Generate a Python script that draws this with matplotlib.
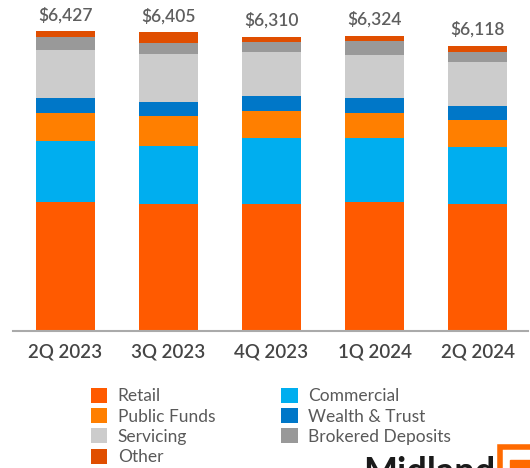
import matplotlib.pyplot as plt
from matplotlib.patches import Rectangle

plt.rcParams['font.family'] = ['Lato', 'DejaVu Sans']

quarters = ["2Q 2023", "3Q 2023", "4Q 2023", "1Q 2024", "2Q 2024"]
totals = [6427, 6405, 6310, 6324, 6118]

retail = [2773, 2729, 2723, 2766, 2727]
commercial = [1311, 1247, 1411, 1376, 1217]
public_funds = [589, 638, 580, 531, 580]
wealth_trust = [322, 301, 329, 322, 305]
servicing = [1024, 1026, 945, 920, 932]
brokered = [279, 236, 215, 301, 215]
other = [129, 228, 107, 108, 142]

series = [
    ("Retail", retail, "#FF5A00"),
    ("Commercial", commercial, "#00AEEF"),
    ("Public Funds", public_funds, "#FF7F00"),
    ("Wealth & Trust", wealth_trust, "#0077C8"),
    ("Servicing", servicing, "#CCCCCC"),
    ("Brokered Deposits", brokered, "#999999"),
    ("Other", other, "#E04E00"),
]

fig = plt.figure(figsize=(5.3, 4.68), dpi=100)
ax = fig.add_axes([13 / 530, 137.3 / 468, 515 / 530, 330.7 / 468])

x = range(len(quarters))
bottom = [0] * len(quarters)
bars = {}
for name, vals, color in series:
    bars[name] = ax.bar(x, vals, width=0.57, bottom=bottom, color=color, label=name)
    bottom = [b + v for b, v in zip(bottom, vals)]

for i, t in enumerate(totals):
    ax.annotate(f"${t:,}", (i, t), xytext=(0, 6), textcoords="offset points",
                ha="center", va="bottom", fontsize=12.5, fontweight="semibold",
                color="#5E5E5E")

ax.set_xlim(-0.51, 4.49)
ax.set_ylim(0, 7103)
for s in ["top", "right", "left"]:
    ax.spines[s].set_visible(False)
ax.spines["bottom"].set_color("#AAAAAA")
ax.spines["bottom"].set_linewidth(1.5)
ax.set_yticks([])
ax.set_xticks(list(x))
ax.set_xticklabels(quarters, fontsize=13.5, fontweight="semibold", color="#454545")
ax.tick_params(axis="x", length=0, pad=9)

order = ["Retail", "Public Funds", "Servicing", "Other",
         "Commercial", "Wealth & Trust", "Brokered Deposits"]
fig.legend([bars[n] for n in order], order, ncol=2, loc="upper left",
           bbox_to_anchor=(84 / 530, 1 - 381 / 468), frameon=False,
           fontsize=12.5, labelcolor="#595959", handlelength=0.95,
           handleheight=0.95, handletextpad=0.6, columnspacing=3.8,
           labelspacing=0.22, borderaxespad=0)

# company wordmark, clipped by the bottom edge
fig.text(363 / 530, -21 / 468, "Midland", fontsize=26, fontweight="bold",
         color="#1A1A1A", ha="left", va="bottom")
fig.patches.append(Rectangle((500 / 530, -0.05), 0.08, 21 / 468 + 0.05,
                             transform=fig.transFigure, fill=False,
                             edgecolor="#FF6A00", linewidth=4))
fig.patches.append(Rectangle((510 / 530, -0.05), 0.06, 8 / 468 + 0.05,
                             transform=fig.transFigure, color="#FF6A00"))

fig.savefig("out.png", dpi=100)
